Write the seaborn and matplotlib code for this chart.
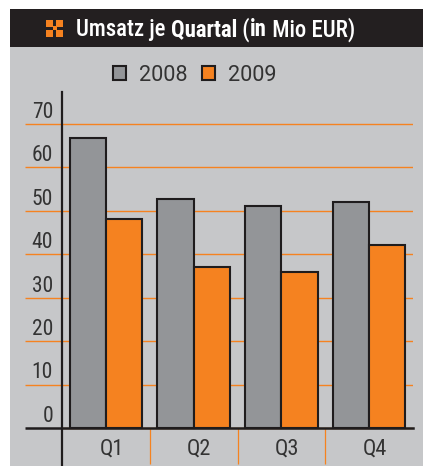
import matplotlib
matplotlib.use("Agg")
import matplotlib.pyplot as plt
from matplotlib.patches import Rectangle
from matplotlib.transforms import ScaledTranslation
import pandas as pd
import seaborn as sns

quarters = ["Q1", "Q2", "Q3", "Q4"]
values_2008 = [66.7, 52.7, 51.0, 52.0]
values_2009 = [48.0, 37.0, 35.9, 42.0]
y_ticks = [0, 10, 20, 30, 40, 50, 60, 70]
title_parts = [("Umsatz je ", 500), ("Quartal", 700), (" (", 500), ("in", 700), (" Mio EUR)", 500)]

BG = "#c6c7c9"
DARK = "#231f20"
GRAY = "#939598"
ORANGE = "#f58220"
TEXT = "#333333"
W, H = 423, 466
RIGHT = 413

df = pd.DataFrame({
    "Quartal": quarters * 2,
    "Jahr": ["2008"] * 4 + ["2009"] * 4,
    "Umsatz": values_2008 + values_2009,
})

sns.set_theme(style="white")
plt.rcParams["font.family"] = ["Roboto", "DejaVu Sans"]
fig = plt.figure(figsize=(W / 100, H / 100), dpi=100, facecolor="white")
px = 72 / 100

def rect(x0, y0, x1, y1, c):
    fig.add_artist(Rectangle((x0 / W, 1 - y1 / H), (x1 - x0) / W, (y1 - y0) / H,
                             transform=fig.transFigure, facecolor=c, edgecolor="none", zorder=-5))

rect(10, 9, W, H, BG)
rect(10, 9, W, 47, DARK)
# header icon
for (x0, y0) in [(46, 20), (56, 20), (46, 30), (56, 30)]:
    rect(x0, y0, x0 + 7, y0 + 6.5, ORANGE)
rect(52.5, 26, 56.5, 30, ORANGE)

# axes span: x 62..413, y 92..465; y=0 at 428, 10 units = 43.5 px
ax = fig.add_axes([62 / W, 1 - 465 / H, (RIGHT - 62) / W, (465 - 92) / H])
ax.patch.set_alpha(0)
sns.barplot(data=df, x="Quartal", y="Umsatz", hue="Jahr", ax=ax,
            palette={"2008": GRAY, "2009": ORANGE}, width=0.825, gap=0,
            saturation=1, edgecolor="#1f1c1d", linewidth=1.5, zorder=3)
ax.set_xlim(-0.5, 3.5)
ax.set_ylim(-(465 - 428) / 4.35, (428 - 92) / 4.35)
ax.set_xlabel("")
ax.set_ylabel("")

for s in ["top", "right"]:
    ax.spines[s].set_visible(False)
ax.spines["left"].set_color("#1f1c1d")
ax.spines["left"].set_linewidth(1.6)
ax.spines["left"].set_zorder(5)
ax.spines["bottom"].set_position(("data", 0))
ax.spines["bottom"].set_color("#1f1c1d")
ax.spines["bottom"].set_linewidth(1.8)
ax.spines["bottom"].set_zorder(5)

COND = ["Roboto Condensed", "Roboto"]
ax.set_yticks(y_ticks)
ax.grid(axis="y", color=ORANGE, linewidth=1.0)
ax.set_axisbelow(True)
ax.tick_params(axis="y", length=37 * px, width=1.0, color=ORANGE, pad=-28 * px,
               labelsize=15.5, labelcolor=TEXT, left=True)
offset = ScaledTranslation(0, 14 * px / 72, fig.dpi_scale_trans)
for t in ax.get_yticklabels():
    t.set_transform(t.get_transform() + offset)
    t.set_family(COND)
zero_tick = ax.yaxis.get_major_ticks()[0]
zero_tick.tick1line.set_markeredgecolor("#1f1c1d")
zero_tick.tick1line.set_markeredgewidth(1.8)

ax.set_xticks([0.5, 1.5, 2.5], minor=True)
ax.tick_params(axis="x", which="minor", length=36 * px, width=0.9, color=ORANGE, bottom=True)
ax.tick_params(axis="x", which="major", length=0, pad=7.5, labelsize=16, labelcolor=TEXT)
xoff = ScaledTranslation(5.5 * px / 72, 0, fig.dpi_scale_trans)
for t in ax.get_xticklabels():
    t.set_transform(t.get_transform() + xoff)
    t.set_family(COND)

# legend
handles, labels = ax.get_legend_handles_labels()
leg = ax.legend(handles, labels, ncol=2, frameon=False, fontsize=15.6, loc="center left",
                bbox_to_anchor=((113 - 62) / (RIGHT - 62), (465 - 75.5) / (465 - 92)),
                bbox_transform=ax.transAxes, handlelength=0.6, handleheight=0.6,
                handletextpad=0.6, columnspacing=0.68, borderpad=0, borderaxespad=0,
                labelcolor=TEXT)

# title
renderer = fig.canvas.get_renderer()
x = 76 / W
for txt, weight in title_parts:
    t = fig.text(x, 1 - 29.5 / H, txt, color="white", fontsize=16.4, fontweight=weight,
                 family=["Roboto Condensed", "Liberation Sans"], va="center", ha="left")
    x = t.get_window_extent(renderer).x1 / W

fig.savefig("out.png", dpi=100, facecolor="white")
